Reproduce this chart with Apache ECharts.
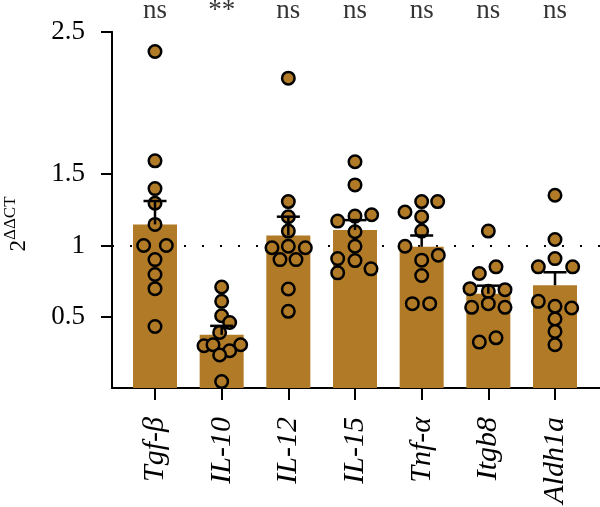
<!DOCTYPE html>
<html>
<head>
<meta charset="utf-8">
<script src="https://cdn.jsdelivr.net/npm/echarts@6/dist/echarts.min.js"></script>
<style>
html, body { margin: 0; padding: 0; background: #fff; }
#main { width: 600px; height: 507px; }
</style>
</head>
<body>
<div id="main"></div>
<script>
var genes = ['Tgf-β', 'IL-10', 'IL-12', 'IL-15', 'Tnf-α', 'Itgb8', 'Aldh1a'];
var signif = ['ns', '**', 'ns', 'ns', 'ns', 'ns', 'ns'];
var means = [1.148, 0.373, 1.070, 1.108, 0.991, 0.662, 0.721];
var sems = [0.164, 0.063, 0.132, 0.070, 0.079, 0.056, 0.091];
var yTicks = [0.5, 1, 1.5, 2.5];

// single samples, value + sideways offset (category units) as they sit in the plot
var tgfVals = [2.361, 1.594, 1.399, 1.296, 1.148, 1.0, 1.0, 0.901, 0.796, 0.697, 0.432];
var tgfOff = [0, 0, 0, 0, 0, -0.17, 0.17, 0, 0, 0, 0];
var il10Vals = [0.709, 0.608, 0.507, 0.460, 0.390, 0.296, 0.303, 0.303, 0.261, 0.232, 0.045];
var il10Off = [0, 0, 0, 0.12, -0.03, -0.265, -0.13, 0.285, 0.12, -0.03, 0];
var il12Vals = [2.174, 1.308, 1.202, 1.101, 0.995, 0.984, 0.984, 0.901, 0.901, 0.695, 0.538];
var il12Off = [0, 0, 0, 0, 0, -0.245, 0.255, -0.125, 0.115, 0, 0];
var il15Vals = [1.587, 1.425, 1.171, 1.206, 1.216, 1.096, 0.995, 0.908, 0.894, 0.808, 0.836];
var il15Off = [0, 0, -0.26, 0, 0.25, 0, 0, -0.26, 0, -0.26, 0.24];
var tnfVals = [1.235, 1.308, 1.308, 1.202, 1.101, 0.995, 0.932, 0.897, 0.789, 0.592, 0.592];
var tnfOff = [-0.25, 0, 0.24, 0, 0, -0.25, 0.25, 0, 0, -0.14, 0.12];
var itgb8Vals = [1.101, 0.803, 0.850, 0.697, 0.678, 0.690, 0.566, 0.592, 0.566, 0.322, 0.352];
var itgb8Off = [0, -0.135, 0.115, -0.275, 0, 0.25, -0.25, 0, 0.25, -0.135, 0.115];
var aldhVals = [1.352, 1.042, 0.908, 0.850, 0.850, 0.608, 0.573, 0.561, 0.484, 0.397, 0.303];
var aldhOff = [0, 0, 0, -0.25, 0.265, -0.25, 0, 0.25, 0, 0, 0];

var allVals = [tgfVals, il10Vals, il12Vals, il15Vals, tnfVals, itgb8Vals, aldhVals];
var allOff = [tgfOff, il10Off, il12Off, il15Off, tnfOff, itgb8Off, aldhOff];

var serif = 'Liberation Serif';
var barColor = '#b07a26';

var points = [];
allVals.forEach(function (vals, i) {
    vals.forEach(function (v, k) {
        points.push([i + allOff[i][k], v]);
    });
});

var myChart = echarts.init(document.getElementById('main'));
var option = {
    animation: false,
    grid: { left: 112, right: 0, top: 31.7, bottom: 119 },
    xAxis: {
        type: 'value',
        min: -0.645,
        max: 6.675,
        axisLine: { lineStyle: { color: '#000', width: 2 } },
        axisTick: { customValues: [0, 1, 2, 3, 4, 5, 6], length: 12, lineStyle: { color: '#000', width: 2 } },
        axisLabel: {
            customValues: [0, 1, 2, 3, 4, 5, 6],
            formatter: function (v) { return genes[Math.round(v)]; },
            rotate: 90,
            margin: 29,
            color: '#000',
            fontFamily: serif,
            fontStyle: 'italic',
            fontSize: 30
        },
        splitLine: { show: false }
    },
    yAxis: {
        type: 'value',
        min: 0,
        max: 2.5,
        axisLine: { show: true, onZero: false, lineStyle: { color: '#000', width: 2 } },
        axisTick: { show: true, customValues: yTicks, length: 11, lineStyle: { color: '#000', width: 2 } },
        axisLabel: {
            customValues: yTicks,
            margin: 27,
            color: '#000',
            fontFamily: serif,
            fontSize: 27
        },
        splitLine: { show: false }
    },
    graphic: [{
        type: 'text',
        x: 30,
        y: 224,
        rotation: Math.PI / 2,
        style: {
            text: '{a|2}{b|ΔΔCT}',
            align: 'center',
            verticalAlign: 'bottom',
            fill: '#000',
            rich: {
                a: { fontFamily: serif, fontSize: 23, lineHeight: 28, verticalAlign: 'bottom' },
                b: { fontFamily: serif, fontSize: 17, lineHeight: 17, verticalAlign: 'top' }
            }
        }
    }],
    series: [
        {
            type: 'bar',
            z: 2,
            barWidth: 44,
            itemStyle: { color: barColor },
            data: means.map(function (m, i) { return [i, m]; }),
            markLine: {
                z: 1,
                silent: true,
                symbol: 'none',
                label: { show: false },
                lineStyle: { color: '#000', width: 2, type: [2, 16] },
                data: [{ yAxis: 1 }]
            }
        },
        {
            type: 'scatter',
            z: 3,
            symbolSize: 12.5,
            itemStyle: { color: barColor, borderColor: '#000', borderWidth: 2.5, opacity: 1 },
            data: points
        },
        {
            type: 'custom',
            z: 4,
            data: means.map(function (m, i) { return [i, m, m + sems[i]]; }),
            renderItem: function (params, api) {
                var base = api.coord([api.value(0), api.value(1)]);
                var top = api.coord([api.value(0), api.value(2)]);
                var style = { stroke: '#000', lineWidth: 2.5 };
                return {
                    type: 'group',
                    children: [
                        { type: 'line', shape: { x1: base[0], y1: base[1], x2: top[0], y2: top[1] }, style: style },
                        { type: 'line', shape: { x1: top[0] - 11.5, y1: top[1], x2: top[0] + 11.5, y2: top[1] }, style: style }
                    ]
                };
            }
        },
        {
            type: 'scatter',
            symbolSize: 0,
            silent: true,
            data: signif.map(function (s, i) { return [i, 2.5]; }),
            label: {
                show: true,
                position: 'top',
                distance: 7,
                formatter: function (p) { return signif[p.dataIndex]; },
                color: '#000',
                fontFamily: serif,
                fontSize: 27
            }
        }
    ]
};
myChart.setOption(option);
</script>
</body>
</html>
